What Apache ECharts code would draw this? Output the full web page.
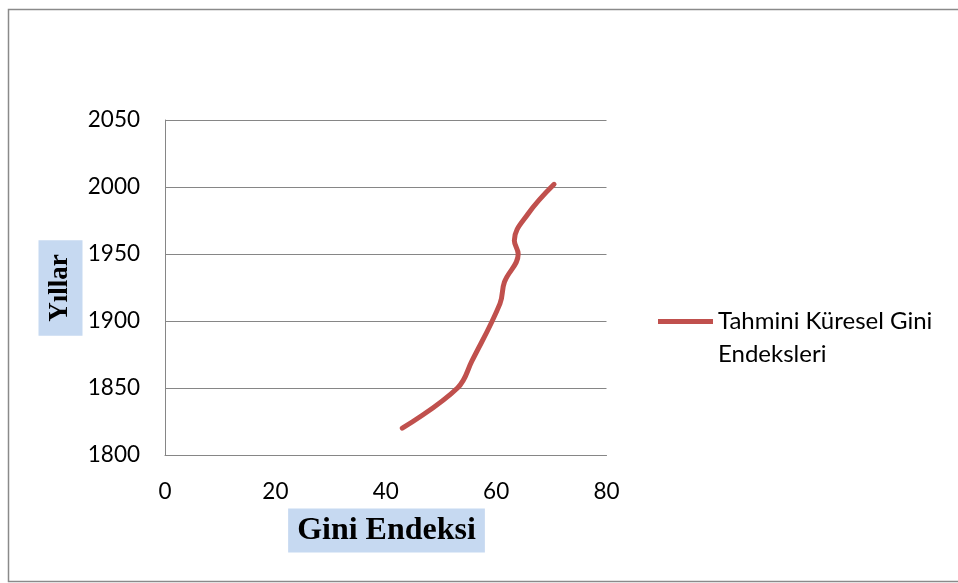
<!DOCTYPE html>
<html>
<head>
<meta charset="utf-8">
<script src="https://cdn.jsdelivr.net/npm/echarts@6/dist/echarts.min.js"></script>
<style>
html,body{margin:0;padding:0;background:#fff;}
#c{width:958px;height:583px;}
</style>
</head>
<body>
<div id="c"></div>
<script>
const seriesName = 'Tahmini Küresel Gini Endeksleri';
const giniValues = [43, 53, 55.6, 60.7, 61.5, 64, 63.3, 65.8, 70.5];
const years = [1820, 1850, 1870, 1913, 1929, 1950, 1960, 1980, 2002];
const xTitle = 'Gini Endeksi';
const yTitle = 'Yıllar';

const chart = echarts.init(document.getElementById('c'), null, {renderer: 'canvas'});
const tickFont = {fontFamily: 'Lato', fontSize: 22.5, color: '#000'};
chart.setOption({
  animation: false,
  backgroundColor: '#fff',
  grid: {left: 165, top: 120, width: 441.5, height: 335},
  xAxis: {
    type: 'value', min: 0, max: 80, interval: 20,
    axisLine: {show: true, lineStyle: {color: '#868686', width: 1}},
    axisTick: {show: false},
    splitLine: {show: false},
    axisLabel: Object.assign({margin: 25, formatter: v => String(v)}, tickFont)
  },
  yAxis: {
    type: 'value', min: 1800, max: 2050, interval: 50,
    axisLine: {show: true, lineStyle: {color: '#868686', width: 1}},
    axisTick: {show: false},
    splitLine: {show: true, lineStyle: {color: '#868686', width: 1}},
    axisLabel: Object.assign({margin: 25, formatter: v => String(v)}, tickFont)
  },
  legend: {
    left: 658, top: 305, padding: 0,
    itemWidth: 55, itemHeight: 38,
    data: [{name: seriesName, icon: 'path://M0,0 L55,0 L55,5 L0,5 Z M0,37.99 L0.01,37.99 L0.01,38 Z'}],
    formatter: () => 'Tahmini Küresel Gini\nEndeksleri',
    textStyle: {fontFamily: 'Lato', fontSize: 24, color: '#000', lineHeight: 33}
  },
  series: [{
    name: seriesName,
    type: 'line',
    data: giniValues.map((g, i) => [g, years[i]]),
    smooth: 0.4,
    showSymbol: false,
    symbol: 'none',
    itemStyle: {color: '#c0504d'},
    lineStyle: {color: '#c0504d', width: 5, cap: 'round', join: 'round'}
  }],
  graphic: [
    {type: 'rect', shape: {x: 8.5, y: 9.5, width: 1000, height: 572}, style: {fill: 'none', stroke: '#8a8a8a', lineWidth: 1.5}, silent: true},
    {type: 'text', x: 386.5, y: 530.5,
     style: {text: xTitle, fontFamily: 'Liberation Serif', fontWeight: 'bold', fontSize: 32, fill: '#000',
             align: 'center', verticalAlign: 'middle', backgroundColor: '#c6d9f1', padding: [4, 9], lineHeight: 36}},
    {type: 'text', x: 60.5, y: 288, rotation: Math.PI / 2,
     style: {text: yTitle, fontFamily: 'Liberation Serif', fontWeight: 'bold', fontSize: 27, fill: '#000',
             align: 'center', verticalAlign: 'middle', backgroundColor: '#c6d9f1', padding: [7, 14], lineHeight: 30}}
  ]
});
</script>
</body>
</html>
